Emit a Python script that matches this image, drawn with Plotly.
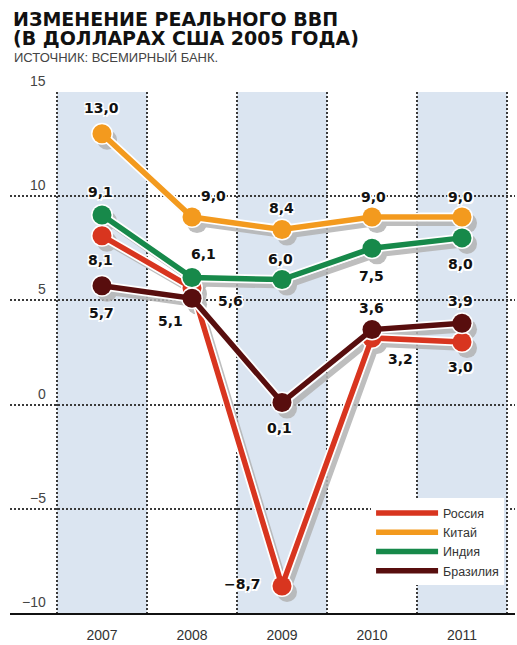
import plotly.graph_objects as go

# ---------------- data ----------------
years = [2007, 2008, 2009, 2010, 2011]
russia = [8.1, 5.6, -8.7, 3.2, 3.0]
china = [13.0, 9.0, 8.4, 9.0, 9.0]
india = [9.1, 6.1, 6.0, 7.5, 8.0]
brazil = [5.7, 5.1, 0.1, 3.6, 3.9]
series_names = ["Россия", "Китай", "Индия", "Бразилия"]
y_ticks = [-10, -5, 0, 5, 10, 15]
title_line1 = "ИЗМЕНЕНИЕ РЕАЛЬНОГО ВВП"
title_line2 = "(В ДОЛЛАРАХ США 2005 ГОДА)"
source_text = "ИСТОЧНИК: ВСЕМИРНЫЙ БАНК."

series_values = {"Россия": russia, "Китай": china, "Индия": india, "Бразилия": brazil}

# ---------------- styles ----------------
colors = {"Россия": "#d8351f", "Китай": "#f39a1e", "Индия": "#17894a", "Бразилия": "#580e0e"}
draw_order = ["Китай", "Россия", "Бразилия", "Индия"]
legend_rank = {"Россия": 1, "Китай": 2, "Индия": 3, "Бразилия": 4}
# label offsets in pixels (dx right, dy up) relative to each marker
label_offsets = {
    "Китай": [(0, 26), (22, 21), (0, 22), (2, 20), (-1, 20)],
    "Индия": [(-1, 23), (12, 23), (-1, 21), (0, -28), (-1, -26)],
    "Россия": [(-1, -24), (39, -13), (-39, 2), (29, -21), (-1, -25)],
    "Бразилия": [(0, -27), (-21, -23), (-2, -25), (0, 22), (-1, 22)],
}
band_color = "#dbe5f1"
grid_color = "#3a3a3a"
shadow_color = "#b3b3b3"

X_RANGE = [2005.978, 2011.589]
Y_RANGE = [-10, 15]
SHADOW_DX = 0.056   # ~5px right
SHADOW_DY = 0.29    # ~6px down

fig = go.Figure()

# shadows (on shifted overlay axes x2/y2)
for name in draw_order:
    fig.add_trace(go.Scatter(
        x=years, y=series_values[name], mode="lines+markers",
        line=dict(color=shadow_color, width=6),
        marker=dict(color=shadow_color, size=20),
        xaxis="x2", yaxis="y2", showlegend=False, hoverinfo="skip", opacity=0.85,
    ))

# main series (on overlay axes x3/y3 with the same ranges as the base axes)
for name in draw_order:
    vals = series_values[name]
    fig.add_trace(go.Scatter(
        x=years, y=vals, mode="lines+markers",
        line=dict(color="white", width=9),
        marker=dict(color="white", size=22),
        xaxis="x3", yaxis="y3", showlegend=False, hoverinfo="skip",
    ))
    fig.add_trace(go.Scatter(
        x=years, y=vals, mode="lines", name=name,
        line=dict(color=colors[name], width=5.5),
        xaxis="x3", yaxis="y3", legendrank=legend_rank[name],
    ))
    fig.add_trace(go.Scatter(
        x=years, y=vals, mode="markers",
        marker=dict(color=colors[name], size=19),
        xaxis="x3", yaxis="y3", showlegend=False,
    ))

# shaded year bands
for yr in years[::2]:
    fig.add_shape(type="rect", xref="x", yref="y", x0=yr - 0.5, x1=yr + 0.5,
                  y0=Y_RANGE[0], y1=Y_RANGE[1], fillcolor=band_color,
                  line=dict(width=0), layer="below")

annotations = []
label_font = dict(family="DejaVu Sans", size=14, color="#111111", weight="bold",
                  shadow="-1.5px -1.5px 0 #fff, 1.5px -1.5px 0 #fff, -1.5px 1.5px 0 #fff, 1.5px 1.5px 0 #fff, 0 0 3px #fff")
for name in draw_order:
    for yr, v, (dx, dy) in zip(years, series_values[name], label_offsets[name]):
        annotations.append(dict(
            x=yr, y=v, xref="x", yref="y", text=f"{v:.1f}".replace(".", ",").replace("-", "−"),
            showarrow=False, xshift=dx, yshift=dy, font=label_font,
            xanchor="center", yanchor="middle",
        ))

# y tick labels
for t in y_ticks:
    annotations.append(dict(
        x=0.075, y=t, xref="paper", yref="y", text=str(t).replace("-", "−"),
        showarrow=False, xanchor="right", yanchor="middle", yshift=11,
        font=dict(family="Liberation Sans", size=14, color="#444444"),
    ))

# titles
annotations.append(dict(x=0.004, y=1.141, xref="paper", yref="paper", text=title_line1,
                        showarrow=False, xanchor="left", yanchor="middle", borderpad=0,
                        font=dict(family="DejaVu Sans", size=19, color="#111111", weight="bold")))
annotations.append(dict(x=0.004, y=1.104, xref="paper", yref="paper", text=title_line2,
                        showarrow=False, xanchor="left", yanchor="middle", borderpad=0,
                        font=dict(family="DejaVu Sans", size=19, color="#111111", weight="bold")))
annotations.append(dict(x=0.004, y=1.066, xref="paper", yref="paper", text=source_text,
                        showarrow=False, xanchor="left", yanchor="middle",
                        font=dict(family="Liberation Sans", size=13, color="#444444")))

half_positions = [yr - 0.5 for yr in years] + [years[-1] + 0.5]

fig.update_layout(
    width=517, height=645,
    margin=dict(l=10, r=2, t=92, b=27),
    paper_bgcolor="white", plot_bgcolor="white",
    showlegend=True,
    legend=dict(x=0.715, y=0.22, xanchor="left", yanchor="top", bgcolor="white",
                borderwidth=0, itemwidth=62, tracegroupgap=0,
                font=dict(family="Liberation Sans", size=12.5, color="#333333")),
    xaxis=dict(range=X_RANGE, tickvals=years, ticktext=[str(y) for y in years],
               showgrid=False, zeroline=False, showline=True, linecolor="#111111",
               linewidth=1.5, ticks="", ticklabelstandoff=8,
               tickfont=dict(family="Liberation Sans", size=14, color="#333333"),
               minor=dict(tickmode="array", tickvals=half_positions, showgrid=True,
                          griddash="2px,2px", gridcolor=grid_color, gridwidth=1.5, ticks=""),
               fixedrange=True),
    yaxis=dict(range=Y_RANGE, tickvals=y_ticks, showticklabels=False, showgrid=True,
               griddash="2px,2px", gridcolor=grid_color, gridwidth=1.5, zeroline=False,
               ticks="", fixedrange=True),
    xaxis2=dict(range=[X_RANGE[0] - SHADOW_DX, X_RANGE[1] - SHADOW_DX], overlaying="x",
                visible=False, showgrid=False),
    yaxis2=dict(range=[Y_RANGE[0] + SHADOW_DY, Y_RANGE[1] + SHADOW_DY], overlaying="y",
                visible=False, showgrid=False),
    xaxis3=dict(range=X_RANGE, overlaying="x", visible=False, showgrid=False),
    yaxis3=dict(range=Y_RANGE, overlaying="y", visible=False, showgrid=False),
    annotations=annotations,
)

fig.write_html("out.html", config={"displayModeBar": False},
               post_script="document.body.style.margin='0px';")
